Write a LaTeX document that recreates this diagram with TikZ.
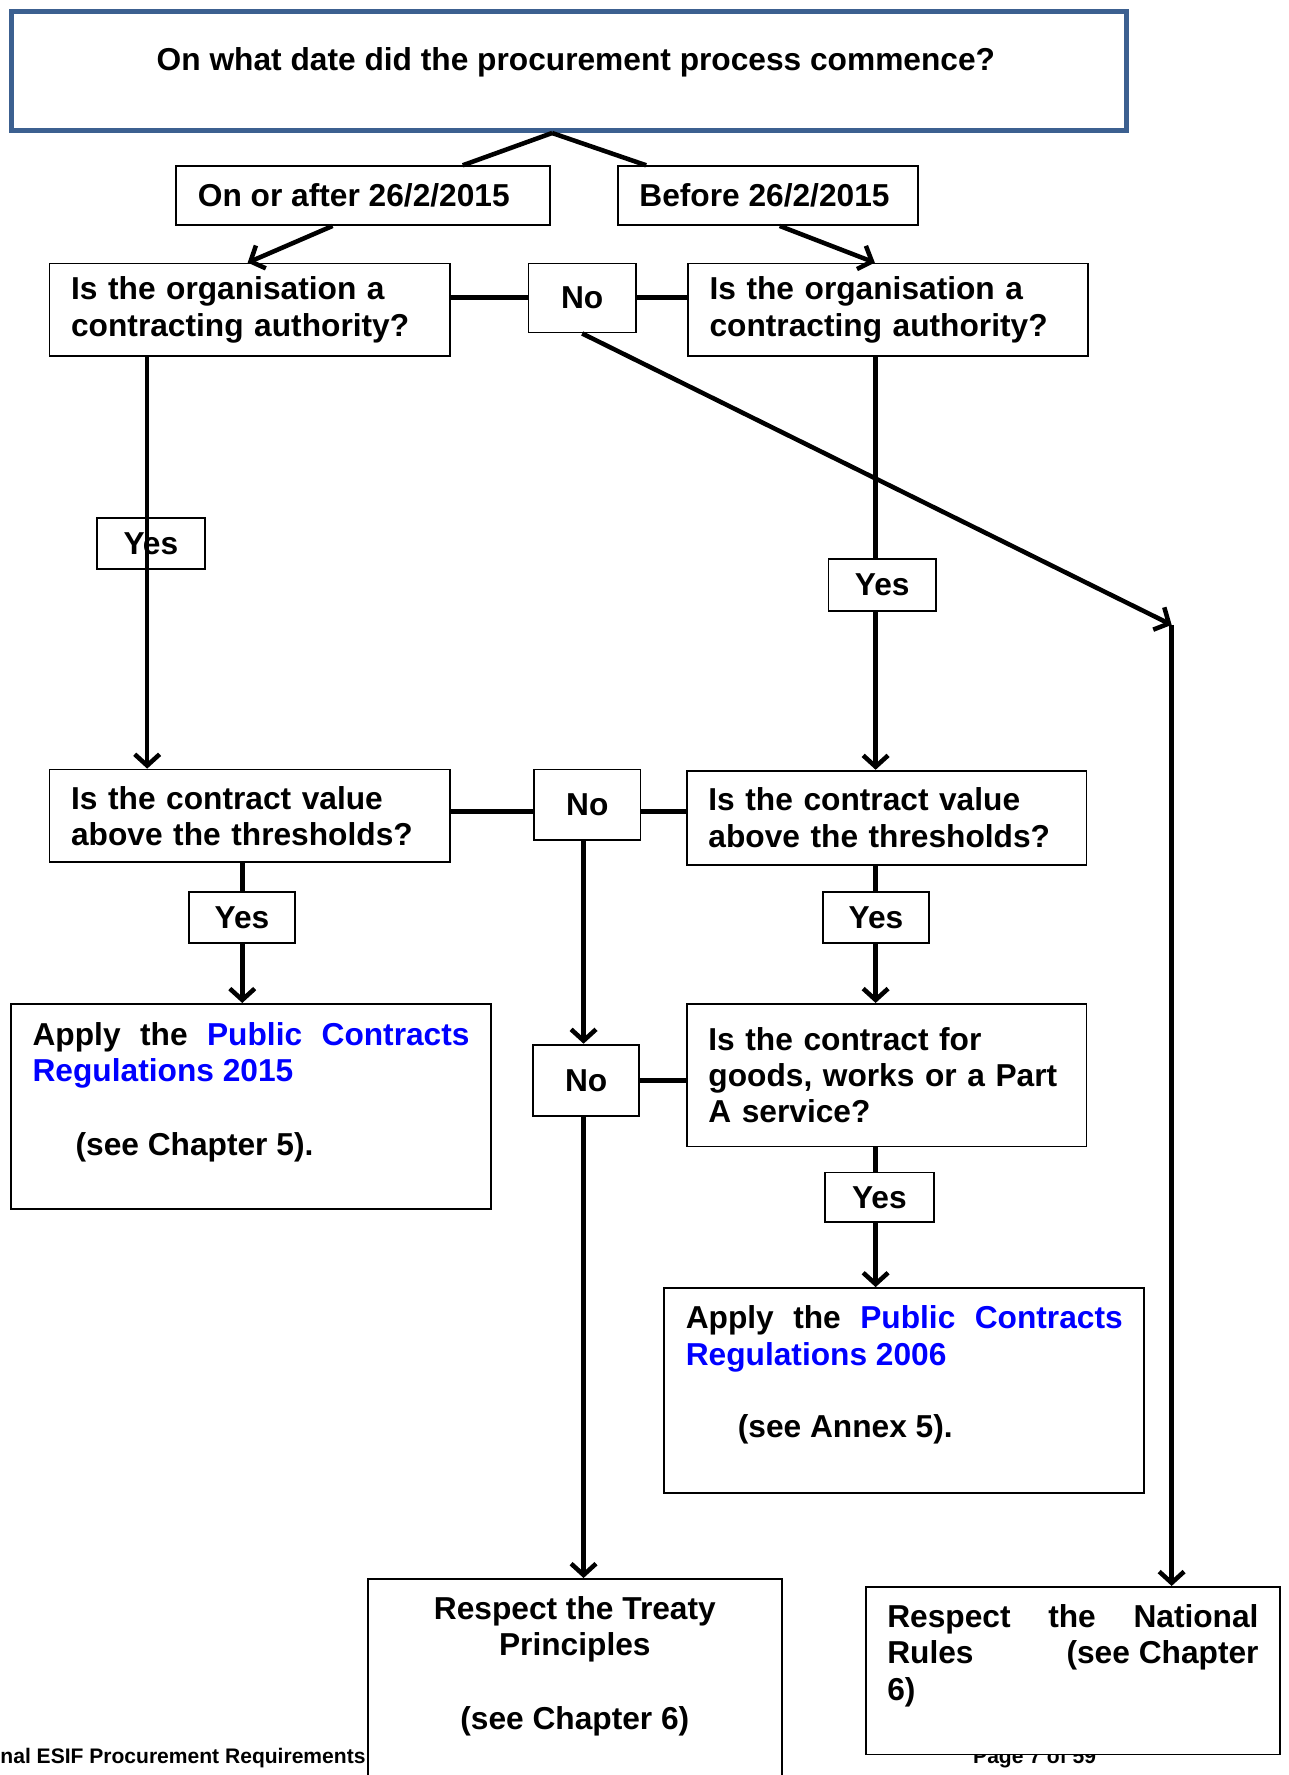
\documentclass[tikz,border=0pt]{standalone}
\usepackage{fontspec}
\setmainfont{Liberation Sans}
\usetikzlibrary{arrows.meta,calc}
\definecolor{topblue}{RGB}{60,96,144}
\definecolor{linkblue}{RGB}{0,0,255}
\newcommand\bxfont{\bfseries\fontsize{14}{16}\selectfont}
\newcommand\topfill[3]{\parbox[c][#1][t]{#2}{#3}}
\newcommand\strt[1]{\rule{0pt}{#1}}
\begin{document}
\begin{tikzpicture}[x=0.5pt,y=-0.5pt,
  base/.style={draw=black,line width=0.8pt,fill=white,font=\bxfont,inner sep=0pt,anchor=north west},
  qbox/.style={base,align=left,inner xsep=9.5pt},
  lbl/.style={base,align=center},
  tbox/.style={base,inner xsep=9.5pt},
  conn/.style={line width=2pt},
  arr/.style={conn,-{Straight Barb[length=5pt,width=11pt]}},
  foot/.style={font=\bfseries\fontsize{9.3}{11}\selectfont,inner sep=0pt}]
\useasboundingbox (0,0) rectangle (1138,1568);

% helper coordinates for connector positions
\coordinate (xy) at (130,0);
\coordinate (xl) at (214,0);
\coordinate (xm) at (515.5,0);
\coordinate (xr) at (773.5,0);
\coordinate (y1) at (0,263);
\coordinate (y2) at (0,717);
\coordinate (c1) at (1035,552);

% footer (partly covered by the box drawn later)
\node[foot,anchor=west] (ft) at (0,1553) {nal ESIF Procurement Requirements};
\node[foot] (pg) at (914,1553) {Page 7 of 59};

% nodes
\node[base,draw=topblue,line width=2.25pt] (top) at (8,8)
  {\topfill{52.5pt}{492.5pt}{\centering\strt{26pt}\hspace*{6pt}On what date did the procurement process commence?}};

\node[tbox,minimum height=26pt] (dateL) at (155,146) {\makebox[146pt][l]{On or after 26/2/2015}};
\node[tbox,minimum height=26pt] (dateR) at (545,146) {\makebox[113.5pt][l]{Before 26/2/2015}};

\node[qbox,text width=158pt,minimum height=41pt] (orgL) at (43,232) {Is the organisation a\\contracting authority?};
\node[lbl,minimum width=47.5pt,minimum height=30.5pt] (no1) at (466,232) {No};
\node[qbox,text width=157.5pt,minimum height=41pt] (orgR) at (607,232) {Is the organisation a\\contracting authority?};

\node[lbl,minimum width=47.5pt,minimum height=22.5pt] (yes1) at (85,457) {Yes};
\node[lbl,minimum width=47.5pt,minimum height=23pt] (yes2) at (731,493) {Yes};

\node[qbox,text width=158pt,minimum height=41pt] (valL) at (43,679) {Is the contract value\\above the thresholds?};
\node[lbl,minimum width=47pt,minimum height=31pt] (no2) at (471,679) {No};
\node[qbox,text width=157.5pt,minimum height=41.5pt] (valR) at (606,680) {Is the contract value\\above the thresholds?};

\node[lbl,minimum width=47pt,minimum height=22.5pt] (yes3) at (166,787) {Yes};
\node[lbl,minimum width=47pt,minimum height=22.5pt] (yes4) at (726,787) {Yes};

\node[tbox] (applyL) at (9,886)
  {\topfill{90.5pt}{193pt}{\strt{18.5pt}Apply\hfill the\hfill \textcolor{linkblue}{Public\hfill Contracts}\\
   \textcolor{linkblue}{Regulations 2015}\\[16.5pt]
   \hspace*{19pt}(see Chapter 5).}};

\node[qbox,text width=157.5pt,minimum height=63pt] (goods) at (606,886) {Is the contract for\\goods, works or a Part\\A service?};
\node[lbl,minimum width=47pt,minimum height=31.5pt] (no3) at (470,922) {No};

\node[lbl,minimum width=48pt,minimum height=22pt] (yes5) at (728,1035) {Yes};

\node[tbox] (applyR) at (586,1137)
  {\topfill{90.5pt}{193pt}{\strt{18pt}Apply\hfill the\hfill \textcolor{linkblue}{Public\hfill Contracts}\\
   \textcolor{linkblue}{Regulations 2006}\\[16pt]
   \hspace*{23pt}(see Annex 5).}};

\node[tbox] (treaty) at (324,1394)
  {\topfill{100pt}{164pt}{\centering\strt{18pt}Respect the Treaty\\Principles\\[16.5pt](see Chapter 6)}};

\node[tbox] (national) at (764,1401)
  {\topfill{74pt}{164pt}{\strt{18pt}Respect\hfill the\hfill National\\Rules\hfill (see Chapter\\6)}};

% connectors
\coordinate (apex) at ($(top.south)+(-15,0)$);
\draw[conn] (apex) -- ($(dateL.north)+(88,0)$);
\draw[conn] (apex) -- ($(dateR.north)+(-107.5,0)$);
\draw[arr] ($(dateL.south)+(-27,0)$) -- ($(orgL.north)+(-2,0)$);
\draw[arr] ($(dateR.south)+(10.5,0)$) -- ($(orgR.north)+(-11.5,0)$);

\draw[conn] (orgL.east |- y1) -- (no1.west |- y1);
\draw[conn] (no1.east |- y1) -- (orgR.west |- y1);
\draw[arr] (no1.south) -- (c1);
\draw[arr] (c1) -- (c1 |- national.north);

\draw[arr] (orgL.south -| xy) -- (valL.north -| xy);
\draw[conn] (orgR.south -| xr) -- (yes2.north -| xr);
\draw[arr] (yes2.south -| xr) -- (valR.north -| xr);

\draw[conn] (valL.east |- y2) -- (no2.west |- y2);
\draw[conn] (no2.east |- y2) -- (valR.west |- y2);
\draw[arr] (no2.south -| xm) -- (no3.north -| xm);

\draw[conn] (valL.south -| xl) -- (yes3.north -| xl);
\draw[arr] (yes3.south -| xl) -- (applyL.north -| xl);
\draw[conn] (valR.south -| xr) -- (yes4.north -| xr);
\draw[arr] (yes4.south -| xr) -- (goods.north -| xr);

\draw[conn] (no3.east) -- (no3.east -| goods.west);
\draw[conn] (goods.south -| xr) -- (yes5.north -| xr);
\draw[arr] (yes5.south -| xr) -- (applyR.north -| xr);
\draw[arr] (no3.south -| xm) -- (treaty.north -| xm);
\end{tikzpicture}
\end{document}
